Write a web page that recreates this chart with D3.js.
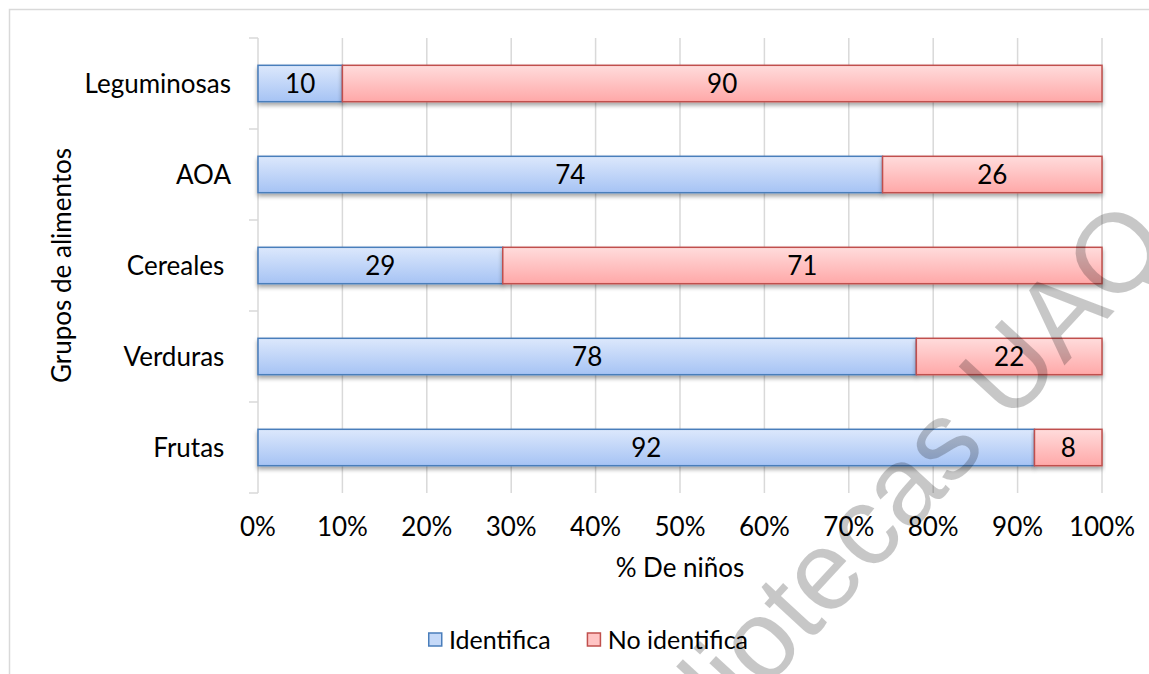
<!DOCTYPE html>
<html>
<head>
<meta charset="utf-8">
<script src="https://cdn.jsdelivr.net/npm/d3@7"></script>
<style>
  html, body { margin: 0; padding: 0; background: #fff; }
  svg { display: block; }
  text { font-family: Lato, "Noto Sans", sans-serif; fill: #000; }
</style>
</head>
<body>
<svg id="chart" width="1149" height="674"></svg>
<script>
// Food groups, top to bottom as shown on the vertical axis
const categories = ["Leguminosas", "AOA", "Cereales ", "Verduras ", "Frutas "];
// Percentage of children who identify / do not identify each group
const identifica = [10, 74, 29, 78, 92];
const noIdentifica = [90, 26, 71, 22, 8];
const seriesNames = ["Identifica", "No identifica"];
const xTicks = [0, 10, 20, 30, 40, 50, 60, 70, 80, 90, 100];
const xTitle = "% De niños";
const yTitle = "Grupos de alimentos";
const watermark = "Bibliotecas UAQ";

const svg = d3.select("#chart");
const W = 1149, H = 674;
const plot = { left: 258, right: 1102, top: 38, bottom: 493 };

const x = d3.scaleLinear().domain([0, 100]).range([plot.left, plot.right]);
const y = d3.scaleBand().domain(categories).range([plot.top, plot.bottom])
  .paddingInner(0.6).paddingOuter(0.3);

// Gradients and shadow
const defs = svg.append("defs");
function grad(id, top, bottom) {
  const g = defs.append("linearGradient").attr("id", id)
    .attr("x1", 0).attr("y1", 0).attr("x2", 0).attr("y2", 1);
  g.append("stop").attr("offset", "0%").attr("stop-color", top);
  g.append("stop").attr("offset", "100%").attr("stop-color", bottom);
}
grad("gBlue", "#dce8fc", "#a6c3f4");
grad("gRed", "#ffdcdc", "#ffa8a8");
const f = defs.append("filter").attr("id", "shadow")
  .attr("x", "-5%").attr("y", "-20%").attr("width", "110%").attr("height", "160%");
f.append("feDropShadow").attr("dx", 0).attr("dy", 3).attr("stdDeviation", 2)
  .attr("flood-color", "#000").attr("flood-opacity", 0.35);

const colors = [
  { fill: "url(#gBlue)", stroke: "#4a7ebb", swatch: "#c5d9f8" },
  { fill: "url(#gRed)", stroke: "#c0504d", swatch: "#ffc4c4" }
];

// Outer frame
svg.append("rect").attr("x", 9.5).attr("y", 9.5).attr("width", W + 10).attr("height", H + 10)
  .attr("fill", "none").attr("stroke", "#d9d9d9").attr("stroke-width", 1.5);

// Vertical gridlines
svg.append("g").selectAll("line").data(xTicks.slice(1)).join("line")
  .attr("x1", d => x(d)).attr("x2", d => x(d))
  .attr("y1", plot.top).attr("y2", plot.bottom)
  .attr("stroke", "#d9d9d9").attr("stroke-width", 1.5);

// Category axis with ticks at band boundaries
const yAxis = svg.append("g");
yAxis.append("line").attr("x1", plot.left).attr("x2", plot.left)
  .attr("y1", plot.top).attr("y2", plot.bottom)
  .attr("stroke", "#d9d9d9").attr("stroke-width", 1.5);
const step = (plot.bottom - plot.top) / categories.length;
yAxis.selectAll("line.tick").data(d3.range(categories.length + 1)).join("line")
  .attr("class", "tick")
  .attr("x1", plot.left - 9).attr("x2", plot.left)
  .attr("y1", i => plot.top + i * step).attr("y2", i => plot.top + i * step)
  .attr("stroke", "#d9d9d9").attr("stroke-width", 1.5);
yAxis.selectAll("text").data(categories).join("text")
  .attr("x", plot.left - 27)
  .attr("y", d => y(d) + y.bandwidth() / 2)
  .attr("dy", "0.36em")
  .attr("text-anchor", "end")
  .style("white-space", "pre")
  .style("font-size", "26px")
  .text(d => d);

// X tick labels
svg.append("g").selectAll("text").data(xTicks).join("text")
  .attr("x", d => x(d)).attr("y", 536)
  .attr("text-anchor", "middle").style("font-size", "26px")
  .text(d => d + "%");

// Axis titles
svg.append("text").attr("x", (plot.left + plot.right) / 2).attr("y", 577)
  .attr("text-anchor", "middle").style("font-size", "26px").text(xTitle);
svg.append("text")
  .attr("transform", `translate(71,${(plot.top + plot.bottom) / 2}) rotate(-90)`)
  .attr("text-anchor", "middle").style("font-size", "26px").text(yTitle);

// Stacked bars
const rows = categories.map((c, i) => ({ c, vals: [identifica[i], noIdentifica[i]] }));
const barG = svg.append("g");
rows.forEach(r => {
  let acc = 0;
  r.vals.forEach((v, k) => {
    const x0 = acc, x1 = acc + v;
    acc = x1;
    barG.append("rect")
      .attr("x", x(x0)).attr("y", y(r.c))
      .attr("width", x(x1) - x(x0)).attr("height", y.bandwidth())
      .attr("fill", colors[k].fill).attr("stroke", colors[k].stroke)
      .attr("stroke-width", 1.5).attr("filter", "url(#shadow)");
  });
});
// Value labels drawn above all bars so shadows do not cover them
rows.forEach(r => {
  let acc = 0;
  r.vals.forEach(v => {
    const mid = acc + v / 2;
    acc += v;
    barG.append("text")
      .attr("x", x(mid)).attr("y", y(r.c) + y.bandwidth() / 2)
      .attr("dy", "0.36em").attr("text-anchor", "middle")
      .style("font-size", "26px").text(v);
  });
});

// Legend
const legend = svg.append("g");
let lx = 0;
seriesNames.forEach((name, k) => {
  const g = legend.append("g");
  g.append("rect").attr("x", 0.75).attr("y", -7).attr("width", 13).attr("height", 13)
    .attr("fill", colors[k].swatch).attr("stroke", colors[k].stroke).attr("stroke-width", 1.5);
  const t = g.append("text").attr("x", 21).attr("dy", "0.36em")
    .style("font-size", "25px").text(name);
  const w = 21 + t.node().getComputedTextLength();
  g.attr("transform", `translate(${lx},0)`);
  lx += w + 36;
});
const legendW = lx - 36;
legend.attr("transform", `translate(${588 - legendW / 2},640)`);

// Watermark
svg.append("text")
  .attr("transform", "translate(621,846) rotate(-47.3)")
  .style("font-family", "'Liberation Sans', Arial, sans-serif")
  .style("font-size", "112px")
  .style("fill", "#000").style("fill-opacity", 0.22)
  .text(watermark);
</script>
</body>
</html>
